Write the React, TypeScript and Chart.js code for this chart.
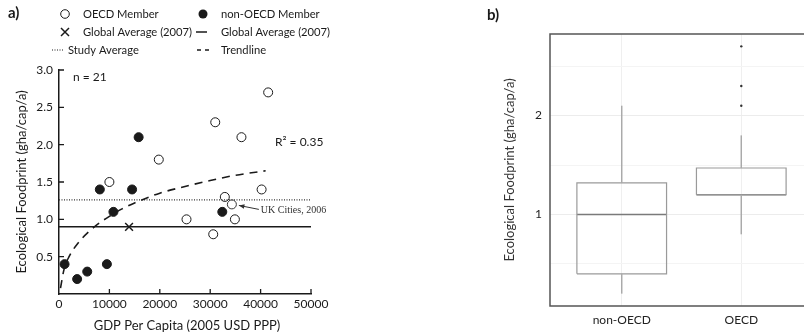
import React, { useEffect, useRef } from 'react';
import { Chart, registerables } from 'chart.js';

Chart.register(...registerables);

// ---- Panel a: ecological footprint against GDP per capita ----
const oecdGdp = [10000, 19800, 25300, 30600, 31000, 32900, 34900, 36200, 40200, 41500];
const oecdFootprint = [1.5, 1.8, 1.0, 0.8, 2.3, 1.3, 1.0, 2.1, 1.4, 2.7];
const nonOecdGdp = [1100, 3600, 5600, 8100, 9500, 10800, 14500, 15800, 32400];
const nonOecdFootprint = [0.4, 0.2, 0.3, 1.4, 0.4, 1.1, 1.4, 2.1, 1.1];
const ukCitiesGdp = [34300];
const ukCitiesFootprint = [1.2];
const globalAvgGdp = [13900];
const globalAvgFootprint = [0.9];
const studyAverageFootprint = 1.26;
const gdpRange = [0, 50000];
const trendGdp = [300, 1000, 2000, 4000, 6000, 8000, 10000, 12500, 15000, 20000, 25000, 30000, 35000, 41000];
const trendFootprint = [0.08, 0.33, 0.5, 0.7, 0.84, 0.95, 1.04, 1.14, 1.22, 1.35, 1.44, 1.52, 1.59, 1.65];
const gdpTicks = [0, 10000, 20000, 30000, 40000, 50000];
const footprintTicks = [0.5, 1.0, 1.5, 2.0, 2.5, 3.0];
const sampleSize = 21;
const rSquared = 0.35;

// ---- Panel b: footprint distribution by group ----
const groups = ['non-OECD', 'OECD'];
const whiskerLow = [0.2, 0.8];
const quartile1 = [0.4, 1.2];
const medians = [1.0, 1.2];
const quartile3 = [1.32, 1.47];
const whiskerHigh = [2.1, 1.8];
const outlierGroup = [2, 2, 2];
const outlierValues = [2.1, 2.3, 2.7];
const boxGridTicks = [0.5, 1, 1.5, 2, 2.5];

const FONT = 'Lato, "Open Sans", sans-serif';
const INK = '#1a1a1a';

function pts(xs: number[], ys: number[]) {
  return xs.map((x, i) => ({ x, y: ys[i] }));
}

const panelAPlugin = {
  id: 'panelAText',
  afterDraw(chart: any) {
    const { ctx, chartArea, scales } = chart;
    const xs = scales.x;
    const ys = scales.y;
    ctx.save();
    ctx.fillStyle = INK;
    ctx.strokeStyle = INK;

    // inward tick marks
    ctx.lineWidth = 1.3;
    ctx.beginPath();
    gdpTicks.forEach((t) => {
      if (t === 0) return;
      const px = xs.getPixelForValue(t);
      ctx.moveTo(px, chartArea.bottom);
      ctx.lineTo(px, chartArea.bottom - 5);
    });
    footprintTicks.forEach((t) => {
      const py = ys.getPixelForValue(t);
      ctx.moveTo(chartArea.left, py);
      ctx.lineTo(chartArea.left + 5, py);
    });
    ctx.stroke();

    // panel letter
    ctx.font = `bold 15px ${FONT}`;
    ctx.textBaseline = 'middle';
    ctx.textAlign = 'left';
    ctx.fillText('a)', 8, 13);

    // legend
    ctx.font = `11.2px ${FONT}`;
    const r1 = 14, r2 = 32, r3 = 50;
    ctx.lineWidth = 1;
    ctx.beginPath();
    ctx.arc(65, r1, 4.3, 0, Math.PI * 2);
    ctx.stroke();
    ctx.fillText('OECD Member', 83, r1);
    ctx.beginPath();
    ctx.arc(203, r1, 4.5, 0, Math.PI * 2);
    ctx.fill();
    ctx.fillText('non-OECD Member', 221, r1);

    ctx.lineWidth = 1.5;
    ctx.beginPath();
    ctx.moveTo(61, r2 - 4); ctx.lineTo(69, r2 + 4);
    ctx.moveTo(69, r2 - 4); ctx.lineTo(61, r2 + 4);
    ctx.stroke();
    ctx.fillText('Global Average (2007)', 83, r2);
    ctx.beginPath();
    ctx.moveTo(196, r2); ctx.lineTo(207, r2);
    ctx.stroke();
    ctx.fillText('Global Average (2007)', 221, r2);

    ctx.lineWidth = 1.2;
    ctx.setLineDash([1, 1.5]);
    ctx.beginPath();
    ctx.moveTo(52, r3); ctx.lineTo(64, r3);
    ctx.stroke();
    ctx.setLineDash([4, 4]);
    ctx.lineWidth = 1.5;
    ctx.beginPath();
    ctx.moveTo(197, r3); ctx.lineTo(209, r3);
    ctx.stroke();
    ctx.setLineDash([]);
    ctx.fillText('Study Average', 68, r3);
    ctx.fillText('Trendline', 221, r3);

    // annotations
    ctx.font = `12px ${FONT}`;
    ctx.fillText(`n = ${sampleSize}`, 73, 77);
    ctx.fillText(`R² = ${rSquared.toFixed(2)}`, 275, 142);

    // UK cities label with arrow
    const ux = xs.getPixelForValue(ukCitiesGdp[0]);
    const uy = ys.getPixelForValue(ukCitiesFootprint[0]);
    ctx.font = '10px "Liberation Serif", "DejaVu Serif", serif';
    ctx.fillStyle = '#333';
    ctx.fillText('UK Cities, 2006', ux + 29, uy + 6);
    ctx.strokeStyle = '#333';
    ctx.lineWidth = 1;
    const ax0 = ux + 27, ay0 = uy + 5, ax1 = ux + 7, ay1 = uy + 1;
    ctx.beginPath();
    ctx.moveTo(ax0, ay0);
    ctx.lineTo(ax1, ay1);
    ctx.stroke();
    const ang = Math.atan2(ay1 - ay0, ax1 - ax0);
    ctx.beginPath();
    ctx.moveTo(ax1, ay1);
    ctx.lineTo(ax1 - 6 * Math.cos(ang - 0.4), ay1 - 6 * Math.sin(ang - 0.4));
    ctx.lineTo(ax1 - 6 * Math.cos(ang + 0.4), ay1 - 6 * Math.sin(ang + 0.4));
    ctx.closePath();
    ctx.fillStyle = '#333';
    ctx.fill();

    // axis titles
    ctx.fillStyle = INK;
    ctx.font = `13px ${FONT}`;
    ctx.textAlign = 'center';
    ctx.fillText('GDP Per Capita (2005 USD PPP)', (chartArea.left + chartArea.right) / 2 + 2, 326);
    ctx.save();
    ctx.translate(22, (chartArea.top + chartArea.bottom) / 2);
    ctx.rotate(-Math.PI / 2);
    ctx.fillText('Ecological Foodprint (gha/cap/a)', 0, 0);
    ctx.restore();

    ctx.restore();
  },
};

const panelBPlugin = {
  id: 'panelBText',
  afterDraw(chart: any) {
    const { ctx, chartArea } = chart;
    ctx.save();
    ctx.strokeStyle = '#555';
    ctx.lineWidth = 1.5;
    ctx.strokeRect(chartArea.left, chartArea.top, chartArea.right - chartArea.left, chartArea.bottom - chartArea.top);
    ctx.fillStyle = INK;
    ctx.font = `bold 15px ${FONT}`;
    ctx.textBaseline = 'middle';
    ctx.textAlign = 'left';
    ctx.fillText('b)', 27, 15);
    ctx.font = `13px ${FONT}`;
    ctx.textAlign = 'center';
    ctx.fillStyle = '#333';
    ctx.translate(50, (chartArea.top + chartArea.bottom) / 2);
    ctx.rotate(-Math.PI / 2);
    ctx.fillText('Ecological Foodprint (gha/cap/a)', 0, 0);
    ctx.restore();
  },
};

function PanelA() {
  const ref = useRef<HTMLCanvasElement>(null);
  useEffect(() => {
    if (!ref.current) return;
    const lineBase = { type: 'line', pointRadius: 0, borderColor: INK, fill: false, showLine: true };
    const chart = new Chart(ref.current, {
      type: 'scatter',
      data: {
        datasets: [
          {
            ...lineBase,
            data: pts(trendGdp, trendFootprint),
            borderWidth: 1.6,
            borderDash: [8, 6],
            cubicInterpolationMode: 'monotone',
          },
          {
            ...lineBase,
            data: pts(gdpRange, gdpRange.map(() => globalAvgFootprint[0])),
            borderWidth: 1.5,
          },
          {
            ...lineBase,
            data: pts(gdpRange, gdpRange.map(() => studyAverageFootprint)),
            borderWidth: 1.2,
            borderDash: [1, 1.5],
            borderColor: '#333',
          },
          {
            data: pts(oecdGdp, oecdFootprint),
            pointStyle: 'circle',
            pointRadius: 4.5,
            backgroundColor: '#fff',
            borderColor: INK,
            borderWidth: 1,
          },
          {
            data: pts(nonOecdGdp, nonOecdFootprint),
            pointStyle: 'circle',
            pointRadius: 4.5,
            backgroundColor: INK,
            borderColor: INK,
            borderWidth: 1,
          },
          {
            data: pts(ukCitiesGdp, ukCitiesFootprint),
            pointStyle: 'circle',
            pointRadius: 4.5,
            backgroundColor: '#fff',
            borderColor: '#333',
            borderWidth: 1,
          },
          {
            data: pts(ukCitiesGdp, ukCitiesFootprint),
            pointStyle: 'line',
            pointRadius: 4,
            borderColor: '#333',
            borderWidth: 1,
          },
          {
            data: pts(globalAvgGdp, globalAvgFootprint),
            pointStyle: 'crossRot',
            pointRadius: 5.5,
            borderColor: INK,
            borderWidth: 1.5,
          },
        ],
      } as any,
      options: {
        animation: false,
        responsive: false,
        events: [],
        layout: { padding: { left: 0, top: 70, right: 24, bottom: 0 } },
        plugins: { legend: { display: false }, tooltip: { enabled: false } },
        scales: {
          x: {
            type: 'linear',
            min: gdpRange[0],
            max: gdpRange[1],
            afterBuildTicks: (s: any) => { s.ticks = gdpTicks.map((v) => ({ value: v })); },
            afterFit: (s: any) => { s.height = 41; },
            grid: { display: false, drawTicks: false },
            border: { display: true, color: INK, width: 1.5 },
            ticks: { color: INK, font: { family: FONT, size: 12 }, padding: 3, maxRotation: 0, autoSkip: false, callback: (v: any) => String(v) },
          },
          y: {
            type: 'linear',
            min: 0,
            max: 3,
            afterBuildTicks: (s: any) => { s.ticks = footprintTicks.map((v) => ({ value: v })); },
            afterFit: (s: any) => { s.width = 59; },
            grid: { display: false, drawTicks: false },
            border: { display: true, color: INK, width: 1.5 },
            ticks: { color: INK, font: { family: FONT, size: 12 }, padding: 6, callback: (v: any) => Number(v).toFixed(1) },
          },
        },
      } as any,
      plugins: [panelAPlugin],
    });
    return () => chart.destroy();
  }, []);
  return <canvas ref={ref} width={335} height={335} style={{ position: 'absolute', left: 0, top: 0, width: 335, height: 335 }} />;
}

function PanelB() {
  const ref = useRef<HTMLCanvasElement>(null);
  useEffect(() => {
    if (!ref.current) return;
    const half = 0.375;
    const datasets: any[] = [];
    groups.forEach((_, i) => {
      const c = i + 1;
      const seg = { type: 'line', pointRadius: 0, fill: false, showLine: true, tension: 0 };
      datasets.push({ ...seg, data: [{ x: c, y: whiskerLow[i] }, { x: c, y: quartile1[i] }], borderColor: '#aaa', borderWidth: 1.5 });
      datasets.push({ ...seg, data: [{ x: c, y: quartile3[i] }, { x: c, y: whiskerHigh[i] }], borderColor: '#aaa', borderWidth: 1.5 });
      datasets.push({
        ...seg,
        data: [
          { x: c - half, y: quartile1[i] },
          { x: c + half, y: quartile1[i] },
          { x: c + half, y: quartile3[i] },
          { x: c - half, y: quartile3[i] },
          { x: c - half, y: quartile1[i] },
        ],
        borderColor: '#9a9a9a',
        borderWidth: 1.2,
      });
      datasets.push({ ...seg, data: [{ x: c - half, y: medians[i] }, { x: c + half, y: medians[i] }], borderColor: '#7a7a7a', borderWidth: 1.6 });
    });
    datasets.push({
      data: pts(outlierGroup, outlierValues),
      pointStyle: 'circle',
      pointRadius: 1.2,
      backgroundColor: '#333',
      borderColor: '#333',
      borderWidth: 0,
    });
    const chart = new Chart(ref.current, {
      type: 'scatter',
      data: { datasets },
      options: {
        animation: false,
        responsive: false,
        events: [],
        layout: { padding: { left: 0, top: 34, right: 17, bottom: 0 } },
        plugins: { legend: { display: false }, tooltip: { enabled: false } },
        scales: {
          x: {
            type: 'linear',
            min: 0.4,
            max: 2.6,
            afterBuildTicks: (s: any) => { s.ticks = groups.map((_, i) => ({ value: i + 1 })); },
            afterFit: (s: any) => { s.height = 29; },
            grid: { color: '#efefef', lineWidth: 1, drawTicks: false },
            border: { display: false },
            ticks: { color: '#222', font: { family: FONT, size: 12 }, padding: 7, maxRotation: 0, autoSkip: false, callback: (v: any) => groups[Math.round(v) - 1] },
          },
          y: {
            type: 'linear',
            min: 0.075,
            max: 2.825,
            afterBuildTicks: (s: any) => { s.ticks = boxGridTicks.map((v) => ({ value: v })); },
            afterFit: (s: any) => { s.width = 90; },
            grid: { color: (c: any) => (Number.isInteger(c.tick?.value) ? '#ececec' : '#f4f4f4'), lineWidth: 1, drawTicks: false },
            border: { display: false },
            ticks: { color: '#222', font: { family: FONT, size: 12 }, padding: 8, callback: (v: any) => (Number.isInteger(v) ? String(v) : '') },
          },
        },
      } as any,
      plugins: [panelBPlugin],
    });
    return () => chart.destroy();
  }, []);
  return <canvas ref={ref} width={370} height={335} style={{ position: 'absolute', left: 460, top: 0, width: 370, height: 335 }} />;
}

export default function App() {
  return (
    <div style={{ position: 'fixed', left: 0, top: 0, width: 804, height: 335, overflow: 'hidden', background: '#fff' }}>
      <PanelA />
      <PanelB />
    </div>
  );
}
